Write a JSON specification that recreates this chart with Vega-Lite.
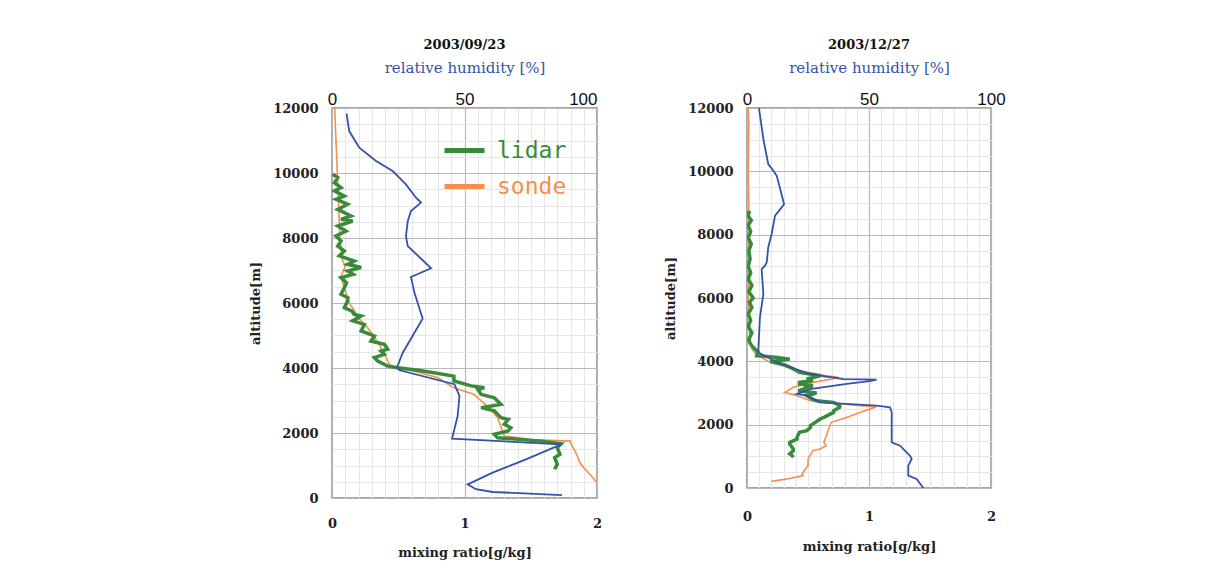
{
  "$schema": "https://vega.github.io/schema/vega-lite/v6.json",
  "background": "white",
  "padding": {"left": 249, "top": 38, "right": 0, "bottom": 0},
  "config": {
    "view": {"stroke": "#8a8a8a", "strokeWidth": 1.5},
    "axis": {"labelColor": "#222222", "titleColor": "#222222", "labelOverlap": false}
  },
  "datasets": {
    "left_lidar": [
      {"series":"lidar","alt":9960,"mr":0.005},{"series":"lidar","alt":9860,"mr":0.043},{"series":"lidar","alt":9700,"mr":0.018},
      {"series":"lidar","alt":9550,"mr":0.068},{"series":"lidar","alt":9450,"mr":0.018},{"series":"lidar","alt":9290,"mr":0.093},
      {"series":"lidar","alt":9190,"mr":0.03},{"series":"lidar","alt":9040,"mr":0.118},{"series":"lidar","alt":8880,"mr":0.043},
      {"series":"lidar","alt":8680,"mr":0.143},{"series":"lidar","alt":8575,"mr":0.068},{"series":"lidar","alt":8520,"mr":0.156},
      {"series":"lidar","alt":8370,"mr":0.043},{"series":"lidar","alt":8215,"mr":0.106},{"series":"lidar","alt":8060,"mr":0.03},
      {"series":"lidar","alt":7910,"mr":0.068},{"series":"lidar","alt":7750,"mr":0.043},{"series":"lidar","alt":7600,"mr":0.093},
      {"series":"lidar","alt":7450,"mr":0.055},{"series":"lidar","alt":7290,"mr":0.168},{"series":"lidar","alt":7190,"mr":0.118},
      {"series":"lidar","alt":7090,"mr":0.22},{"series":"lidar","alt":6985,"mr":0.118},{"series":"lidar","alt":6880,"mr":0.16},
      {"series":"lidar","alt":6780,"mr":0.068},{"series":"lidar","alt":6620,"mr":0.11},{"series":"lidar","alt":6470,"mr":0.093},
      {"series":"lidar","alt":6270,"mr":0.068},{"series":"lidar","alt":6160,"mr":0.12},{"series":"lidar","alt":6060,"mr":0.118},
      {"series":"lidar","alt":5855,"mr":0.093},{"series":"lidar","alt":5750,"mr":0.15},{"series":"lidar","alt":5650,"mr":0.168},
      {"series":"lidar","alt":5600,"mr":0.22},{"series":"lidar","alt":5450,"mr":0.156},{"series":"lidar","alt":5340,"mr":0.244},
      {"series":"lidar","alt":5140,"mr":0.22},{"series":"lidar","alt":4985,"mr":0.32},{"series":"lidar","alt":4830,"mr":0.294},
      {"series":"lidar","alt":4730,"mr":0.395},{"series":"lidar","alt":4575,"mr":0.42},{"series":"lidar","alt":4520,"mr":0.37},
      {"series":"lidar","alt":4420,"mr":0.395},{"series":"lidar","alt":4320,"mr":0.32},{"series":"lidar","alt":4215,"mr":0.345},
      {"series":"lidar","alt":4060,"mr":0.42},{"series":"lidar","alt":4010,"mr":0.496},{"series":"lidar","alt":3930,"mr":0.65},
      {"series":"lidar","alt":3855,"mr":0.77},{"series":"lidar","alt":3750,"mr":0.92},{"series":"lidar","alt":3600,"mr":0.92},
      {"series":"lidar","alt":3450,"mr":1.05},{"series":"lidar","alt":3390,"mr":1.15},{"series":"lidar","alt":3345,"mr":1.10},
      {"series":"lidar","alt":3190,"mr":1.125},{"series":"lidar","alt":3085,"mr":1.225},{"series":"lidar","alt":2880,"mr":1.275},
      {"series":"lidar","alt":2780,"mr":1.125},{"series":"lidar","alt":2680,"mr":1.225},{"series":"lidar","alt":2470,"mr":1.275},
      {"series":"lidar","alt":2420,"mr":1.33},{"series":"lidar","alt":2270,"mr":1.30},{"series":"lidar","alt":2160,"mr":1.35},
      {"series":"lidar","alt":2060,"mr":1.33},{"series":"lidar","alt":1960,"mr":1.225},{"series":"lidar","alt":1855,"mr":1.25},
      {"series":"lidar","alt":1750,"mr":1.58},{"series":"lidar","alt":1670,"mr":1.73},{"series":"lidar","alt":1550,"mr":1.70},
      {"series":"lidar","alt":1345,"mr":1.72},{"series":"lidar","alt":1240,"mr":1.68},{"series":"lidar","alt":1140,"mr":1.69},
      {"series":"lidar","alt":1035,"mr":1.70},{"series":"lidar","alt":885,"mr":1.68}
    ],
    "left_sonde": [
      {"series":"sonde","alt":12000,"mr":0.02},{"series":"sonde","alt":11000,"mr":0.03},{"series":"sonde","alt":10000,"mr":0.04},
      {"series":"sonde","alt":9000,"mr":0.05},{"series":"sonde","alt":8000,"mr":0.06},{"series":"sonde","alt":7300,"mr":0.08},
      {"series":"sonde","alt":7140,"mr":0.10},{"series":"sonde","alt":6830,"mr":0.07},{"series":"sonde","alt":6500,"mr":0.09},
      {"series":"sonde","alt":6000,"mr":0.13},{"series":"sonde","alt":5500,"mr":0.21},{"series":"sonde","alt":5240,"mr":0.27},
      {"series":"sonde","alt":4700,"mr":0.36},{"series":"sonde","alt":4060,"mr":0.44},{"series":"sonde","alt":4010,"mr":0.48},
      {"series":"sonde","alt":3900,"mr":0.62},{"series":"sonde","alt":3700,"mr":0.8},{"series":"sonde","alt":3390,"mr":0.92},
      {"series":"sonde","alt":3190,"mr":1.07},{"series":"sonde","alt":2800,"mr":1.18},{"series":"sonde","alt":2470,"mr":1.25},
      {"series":"sonde","alt":1910,"mr":1.30},{"series":"sonde","alt":1800,"mr":1.5},{"series":"sonde","alt":1750,"mr":1.80},
      {"series":"sonde","alt":1700,"mr":1.80},{"series":"sonde","alt":1400,"mr":1.84},{"series":"sonde","alt":1090,"mr":1.87},
      {"series":"sonde","alt":930,"mr":1.90},{"series":"sonde","alt":625,"mr":1.97},{"series":"sonde","alt":470,"mr":2.0}
    ],
    "left_rh": [
      {"alt":11825,"rh":5.5},{"alt":11290,"rh":6.5},{"alt":10780,"rh":10.3},{"alt":10370,"rh":16.6},{"alt":10060,"rh":22.9},
      {"alt":9650,"rh":27.9},{"alt":9240,"rh":31.7},{"alt":9090,"rh":33.6},{"alt":8830,"rh":29.8},{"alt":8520,"rh":28.6},
      {"alt":8060,"rh":27.9},{"alt":7750,"rh":28.6},{"alt":7070,"rh":37.4},{"alt":6800,"rh":29.8},{"alt":6320,"rh":31.1},
      {"alt":5520,"rh":34.2},{"alt":4985,"rh":30.4},{"alt":4470,"rh":26.7},{"alt":4010,"rh":24.5},{"alt":3930,"rh":25.5},
      {"alt":3500,"rh":46.2},{"alt":3140,"rh":48.1},{"alt":2520,"rh":47.4},{"alt":1825,"rh":45.3},{"alt":1650,"rh":86.5},
      {"alt":1190,"rh":73.2},{"alt":780,"rh":60.6},{"alt":420,"rh":51.2},{"alt":270,"rh":54.3},{"alt":185,"rh":60.6},
      {"alt":90,"rh":86.8}
    ],
    "right_lidar": [
      {"series":"lidar","alt":8750,"mr":0.02},{"series":"lidar","alt":8600,"mr":0.01},{"series":"lidar","alt":8450,"mr":0.035},
      {"series":"lidar","alt":8300,"mr":0.01},{"series":"lidar","alt":8100,"mr":0.03},{"series":"lidar","alt":7900,"mr":0.01},
      {"series":"lidar","alt":7700,"mr":0.035},{"series":"lidar","alt":7500,"mr":0.015},{"series":"lidar","alt":7230,"mr":0.025},
      {"series":"lidar","alt":7000,"mr":0.01},{"series":"lidar","alt":6800,"mr":0.03},{"series":"lidar","alt":6600,"mr":0.01},
      {"series":"lidar","alt":6400,"mr":0.04},{"series":"lidar","alt":6200,"mr":0.015},{"series":"lidar","alt":6000,"mr":0.05},
      {"series":"lidar","alt":5860,"mr":0.02},{"series":"lidar","alt":5700,"mr":0.04},{"series":"lidar","alt":5500,"mr":0.01},
      {"series":"lidar","alt":5300,"mr":0.03},{"series":"lidar","alt":5100,"mr":0.01},{"series":"lidar","alt":4900,"mr":0.04},
      {"series":"lidar","alt":4700,"mr":0.015},{"series":"lidar","alt":4600,"mr":0.02},{"series":"lidar","alt":4440,"mr":0.05},
      {"series":"lidar","alt":4300,"mr":0.09},{"series":"lidar","alt":4180,"mr":0.08},{"series":"lidar","alt":4120,"mr":0.25},
      {"series":"lidar","alt":4070,"mr":0.35},{"series":"lidar","alt":3990,"mr":0.19},{"series":"lidar","alt":3900,"mr":0.3},
      {"series":"lidar","alt":3760,"mr":0.38},{"series":"lidar","alt":3650,"mr":0.43},{"series":"lidar","alt":3545,"mr":0.6},
      {"series":"lidar","alt":3440,"mr":0.49},{"series":"lidar","alt":3390,"mr":0.54},{"series":"lidar","alt":3340,"mr":0.43},
      {"series":"lidar","alt":3285,"mr":0.43},{"series":"lidar","alt":3230,"mr":0.54},{"series":"lidar","alt":3180,"mr":0.49},
      {"series":"lidar","alt":3125,"mr":0.46},{"series":"lidar","alt":3070,"mr":0.42},{"series":"lidar","alt":3000,"mr":0.57},
      {"series":"lidar","alt":2915,"mr":0.49},{"series":"lidar","alt":2800,"mr":0.54},{"series":"lidar","alt":2755,"mr":0.57},
      {"series":"lidar","alt":2705,"mr":0.71},{"series":"lidar","alt":2600,"mr":0.76},{"series":"lidar","alt":2550,"mr":0.76},
      {"series":"lidar","alt":2440,"mr":0.71},{"series":"lidar","alt":2390,"mr":0.71},{"series":"lidar","alt":2230,"mr":0.63},
      {"series":"lidar","alt":2180,"mr":0.6},{"series":"lidar","alt":2020,"mr":0.54},{"series":"lidar","alt":1970,"mr":0.52},
      {"series":"lidar","alt":1915,"mr":0.52},{"series":"lidar","alt":1810,"mr":0.49},{"series":"lidar","alt":1760,"mr":0.43},
      {"series":"lidar","alt":1600,"mr":0.41},{"series":"lidar","alt":1545,"mr":0.41},{"series":"lidar","alt":1440,"mr":0.35},
      {"series":"lidar","alt":1390,"mr":0.35},{"series":"lidar","alt":1230,"mr":0.38},{"series":"lidar","alt":1180,"mr":0.38},
      {"series":"lidar","alt":1075,"mr":0.35},{"series":"lidar","alt":1020,"mr":0.37},{"series":"lidar","alt":970,"mr":0.38}
    ],
    "right_sonde": [
      {"series":"sonde","alt":12000,"mr":0.01},{"series":"sonde","alt":11500,"mr":0.015},{"series":"sonde","alt":10000,"mr":0.01},
      {"series":"sonde","alt":9000,"mr":0.015},{"series":"sonde","alt":8000,"mr":0.01},{"series":"sonde","alt":7000,"mr":0.015},
      {"series":"sonde","alt":6000,"mr":0.01},{"series":"sonde","alt":5000,"mr":0.02},{"series":"sonde","alt":4600,"mr":0.03},
      {"series":"sonde","alt":4390,"mr":0.04},{"series":"sonde","alt":4200,"mr":0.08},{"series":"sonde","alt":3970,"mr":0.19},
      {"series":"sonde","alt":3705,"mr":0.43},{"series":"sonde","alt":3545,"mr":0.65},{"series":"sonde","alt":3495,"mr":0.75},
      {"series":"sonde","alt":3440,"mr":0.7},{"series":"sonde","alt":3335,"mr":0.54},{"series":"sonde","alt":3180,"mr":0.38},
      {"series":"sonde","alt":3020,"mr":0.31},{"series":"sonde","alt":2915,"mr":0.41},{"series":"sonde","alt":2755,"mr":0.52},
      {"series":"sonde","alt":2600,"mr":0.93},{"series":"sonde","alt":2570,"mr":1.04},{"series":"sonde","alt":2550,"mr":1.05},
      {"series":"sonde","alt":2390,"mr":0.93},{"series":"sonde","alt":2200,"mr":0.8},{"series":"sonde","alt":2075,"mr":0.69},
      {"series":"sonde","alt":1650,"mr":0.65},{"series":"sonde","alt":1440,"mr":0.63},{"series":"sonde","alt":1335,"mr":0.65},
      {"series":"sonde","alt":1230,"mr":0.60},{"series":"sonde","alt":1180,"mr":0.54},{"series":"sonde","alt":915,"mr":0.50},
      {"series":"sonde","alt":705,"mr":0.50},{"series":"sonde","alt":440,"mr":0.45},{"series":"sonde","alt":390,"mr":0.46},
      {"series":"sonde","alt":300,"mr":0.35},{"series":"sonde","alt":210,"mr":0.20}
    ],
    "right_rh": [
      {"alt":12000,"rh":4.9},{"alt":11020,"rh":6.7},{"alt":10230,"rh":8.7},{"alt":10020,"rh":10.8},{"alt":9860,"rh":12.2},
      {"alt":8970,"rh":15.2},{"alt":8860,"rh":14.2},{"alt":8600,"rh":11.5},{"alt":8020,"rh":10.1},{"alt":7600,"rh":8.7},
      {"alt":7130,"rh":8.1},{"alt":7020,"rh":7.4},{"alt":6915,"rh":6.0},{"alt":6125,"rh":6.7},{"alt":5390,"rh":5.3},
      {"alt":4285,"rh":4.6},{"alt":3970,"rh":12.2},{"alt":3600,"rh":25.8},{"alt":3440,"rh":39.5},{"alt":3420,"rh":53.1},
      {"alt":3380,"rh":51.0},{"alt":3285,"rh":40.9},{"alt":3125,"rh":25.8},{"alt":2970,"rh":20.4},{"alt":2915,"rh":24.5},
      {"alt":2705,"rh":29.9},{"alt":2600,"rh":53.1},{"alt":2550,"rh":58.6},{"alt":2390,"rh":59.3},{"alt":1440,"rh":59.3},
      {"alt":1335,"rh":62.7},{"alt":1125,"rh":65.4},{"alt":1020,"rh":66.8},{"alt":915,"rh":67.5},{"alt":705,"rh":66.1},
      {"alt":390,"rh":66.1},{"alt":285,"rh":69.5},{"alt":0,"rh":72.3}
    ]
  },
  "resolve": {"scale": {"color": "independent"}, "legend": {"color": "independent"}},
  "spacing": 61,
  "hconcat": [
    {
      "width": 265,
      "height": 390,
      "title": {"text": "2003/09/23", "font": "DejaVu Serif", "fontWeight": "bold", "fontSize": 13, "color": "#111111", "offset": 8},
      "resolve": {"scale": {"x": "independent"}, "axis": {"y": "independent"}},
      "layer": [
        {
          "data": {"name": "left_sonde"},
          "mark": {"type": "line", "strokeWidth": 1.6, "clip": true},
          "encoding": {
            "x": {"field": "mr", "type": "quantitative", "scale": {"domain": [0, 2], "nice": false, "zero": false},
                  "axis": {"orient": "bottom", "values": [0,0.1,0.2,0.3,0.4,0.5,0.6,0.7,0.8,0.9,1,1.1,1.2,1.3,1.4,1.5,1.6,1.7,1.8,1.9,2], "grid": true, "gridColor": "#e6e6e6", "labels": false, "ticks": false, "domain": false, "title": null}},
            "y": {"field": "alt", "type": "quantitative", "scale": {"domain": [0, 12000], "nice": false},
                  "axis": {"orient": "left", "values": [0,500,1000,1500,2000,2500,3000,3500,4000,4500,5000,5500,6000,6500,7000,7500,8000,8500,9000,9500,10000,10500,11000,11500,12000], "grid": true, "gridColor": "#e6e6e6", "labels": false, "ticks": false, "domain": false, "title": null}},
            "order": {"field": "alt", "sort": "descending"},
            "color": {"field": "series", "type": "nominal", "scale": {"domain": ["lidar", "sonde"], "range": ["#3a8a3c", "#f3904f"]},
                      "legend": {"orient": "none", "legendX": 110, "legendY": 20, "title": null, "symbolType": "stroke", "symbolSize": 1600, "symbolStrokeWidth": 5, "labelFont": "DejaVu Sans Mono", "labelFontSize": 23, "labelOffset": 10, "rowPadding": 1, "labelLimit": 200,
                                 "encode": {"labels": {"update": {"fill": {"signal": "datum.value === 'lidar' ? '#3a8a3c' : '#f3904f'"}}}}}}
          }
        },
        {
          "data": {"name": "left_lidar"},
          "mark": {"type": "line", "strokeWidth": 3.5, "clip": true},
          "encoding": {
            "x": {"field": "mr", "type": "quantitative", "scale": {"domain": [0, 2], "nice": false, "zero": false},
                  "axis": {"orient": "bottom", "values": [0, 1, 2], "labelExpr": "format(datum.value, '.0f')", "grid": true, "gridColor": "#b8b8b8", "gridWidth": 1.2, "domain": false, "ticks": false, "labelFlush": false, "labelOverlap": false,
                           "labelFont": "DejaVu Serif", "labelFontWeight": "bold", "labelFontSize": 13, "labelPadding": 19,
                           "title": "mixing ratio[g/kg]", "titleFont": "DejaVu Serif", "titleFontWeight": "bold", "titleFontSize": 13, "titlePadding": 16}},
            "y": {"field": "alt", "type": "quantitative", "scale": {"domain": [0, 12000], "nice": false},
                  "axis": {"orient": "left", "values": [0,2000,4000,6000,8000,10000,12000], "format": "d", "grid": true, "gridColor": "#b8b8b8", "gridWidth": 1.2, "domain": false, "ticks": false,
                           "labelFont": "DejaVu Serif", "labelFontWeight": "bold", "labelFontSize": 13, "labelPadding": 14,
                           "title": "altitude[m]", "titleFont": "DejaVu Serif", "titleFontWeight": "bold", "titleFontSize": 13, "titlePadding": 10}},
            "order": {"field": "alt", "sort": "descending"},
            "color": {"field": "series", "type": "nominal", "scale": {"domain": ["lidar", "sonde"], "range": ["#3a8a3c", "#f3904f"]},
                      "legend": {"orient": "none", "legendX": 110, "legendY": 20, "title": null, "symbolType": "stroke", "symbolSize": 1600, "symbolStrokeWidth": 5, "labelFont": "DejaVu Sans Mono", "labelFontSize": 23, "labelOffset": 10, "rowPadding": 1, "labelLimit": 200,
                                 "encode": {"labels": {"update": {"fill": {"signal": "datum.value === 'lidar' ? '#3a8a3c' : '#f3904f'"}}}}}}
          }
        },
        {
          "data": {"name": "left_rh"},
          "mark": {"type": "line", "strokeWidth": 1.8, "color": "#3452a8", "clip": true},
          "encoding": {
            "x": {"field": "rh", "type": "quantitative", "scale": {"domain": [0, 100], "nice": false, "zero": false},
                  "axis": {"orient": "top", "values": [0, 50, 100], "grid": false, "domain": false, "ticks": false, "labelFlush": false,
                           "labelAlign": {"condition": {"test": "datum.value === 100", "value": "right"}, "value": "center"},
                           "labelFont": "Liberation Sans", "labelFontSize": 17, "labelColor": "#111111", "labelPadding": 0,
                           "title": "relative humidity [%]", "titleColor": "#3452a8", "titleFont": "DejaVu Serif", "titleFontWeight": "normal", "titleFontSize": 15, "titlePadding": 15}},
            "y": {"field": "alt", "type": "quantitative", "scale": {"domain": [0, 12000], "nice": false}, "axis": null},
            "order": {"field": "alt", "sort": "descending"}
          }
        }
      ]
    },
    {
      "width": 244,
      "height": 380,
      "title": {"text": "2003/12/27", "font": "DejaVu Serif", "fontWeight": "bold", "fontSize": 13, "color": "#111111", "offset": 8},
      "resolve": {"scale": {"x": "independent"}, "axis": {"y": "independent"}},
      "layer": [
        {
          "data": {"name": "right_sonde"},
          "mark": {"type": "line", "strokeWidth": 1.6, "color": "#f3904f", "clip": true},
          "encoding": {
            "x": {"field": "mr", "type": "quantitative", "scale": {"domain": [0, 2], "nice": false, "zero": false},
                  "axis": {"orient": "bottom", "values": [0,0.1,0.2,0.3,0.4,0.5,0.6,0.7,0.8,0.9,1,1.1,1.2,1.3,1.4,1.5,1.6,1.7,1.8,1.9,2], "grid": true, "gridColor": "#e6e6e6", "labels": false, "ticks": false, "domain": false, "title": null}},
            "y": {"field": "alt", "type": "quantitative", "scale": {"domain": [0, 12000], "nice": false},
                  "axis": {"orient": "left", "values": [0,500,1000,1500,2000,2500,3000,3500,4000,4500,5000,5500,6000,6500,7000,7500,8000,8500,9000,9500,10000,10500,11000,11500,12000], "grid": true, "gridColor": "#e6e6e6", "labels": false, "ticks": false, "domain": false, "title": null}},
            "order": {"field": "alt", "sort": "descending"}
          }
        },
        {
          "data": {"name": "right_lidar"},
          "mark": {"type": "line", "strokeWidth": 3.5, "color": "#3a8a3c", "clip": true},
          "encoding": {
            "x": {"field": "mr", "type": "quantitative", "scale": {"domain": [0, 2], "nice": false, "zero": false},
                  "axis": {"orient": "bottom", "values": [0, 1, 2], "labelExpr": "format(datum.value, '.0f')", "grid": true, "gridColor": "#b8b8b8", "gridWidth": 1.2, "domain": false, "ticks": false, "labelFlush": false, "labelOverlap": false,
                           "labelFont": "DejaVu Serif", "labelFontWeight": "bold", "labelFontSize": 13, "labelPadding": 22,
                           "title": "mixing ratio[g/kg]", "titleFont": "DejaVu Serif", "titleFontWeight": "bold", "titleFontSize": 13, "titlePadding": 17}},
            "y": {"field": "alt", "type": "quantitative", "scale": {"domain": [0, 12000], "nice": false},
                  "axis": {"orient": "left", "values": [0,2000,4000,6000,8000,10000,12000], "format": "d", "grid": true, "gridColor": "#b8b8b8", "gridWidth": 1.2, "domain": false, "ticks": false,
                           "labelFont": "DejaVu Serif", "labelFontWeight": "bold", "labelFontSize": 13, "labelPadding": 14,
                           "title": "altitude[m]", "titleFont": "DejaVu Serif", "titleFontWeight": "bold", "titleFontSize": 13, "titlePadding": 10}},
            "order": {"field": "alt", "sort": "descending"}
          }
        },
        {
          "data": {"name": "right_rh"},
          "mark": {"type": "line", "strokeWidth": 1.8, "color": "#3452a8", "clip": true},
          "encoding": {
            "x": {"field": "rh", "type": "quantitative", "scale": {"domain": [0, 100], "nice": false, "zero": false},
                  "axis": {"orient": "top", "values": [0, 50, 100], "grid": false, "domain": false, "ticks": false, "labelFlush": false,
                           "labelFont": "Liberation Sans", "labelFontSize": 17, "labelColor": "#111111", "labelPadding": 0,
                           "title": "relative humidity [%]", "titleColor": "#3452a8", "titleFont": "DejaVu Serif", "titleFontWeight": "normal", "titleFontSize": 15, "titlePadding": 15}},
            "y": {"field": "alt", "type": "quantitative", "scale": {"domain": [0, 12000], "nice": false}, "axis": null},
            "order": {"field": "alt", "sort": "descending"}
          }
        }
      ]
    }
  ]
}
